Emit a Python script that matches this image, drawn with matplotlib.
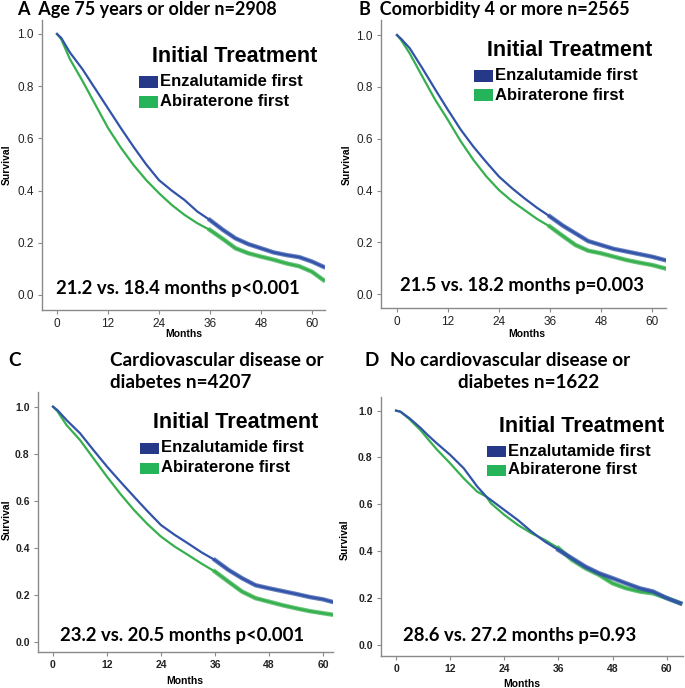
import matplotlib
matplotlib.use('Agg')
import matplotlib.pyplot as plt
from matplotlib.patches import Rectangle

# Survival values (month, survival)
months_a = [0, 1, 3, 6, 9, 12, 15, 18, 21, 24, 27, 30, 33, 36, 39, 42, 45, 48, 51, 54, 57, 60, 62.7]
enza_a = [1.0, 0.985, 0.93, 0.865, 0.79, 0.715, 0.64, 0.568, 0.50, 0.44, 0.40, 0.364, 0.32, 0.287,
          0.25, 0.217, 0.195, 0.179, 0.163, 0.153, 0.145, 0.128, 0.108]
abi_a = [1.0, 0.98, 0.905, 0.82, 0.73, 0.64, 0.565, 0.498, 0.44, 0.39, 0.345, 0.307, 0.275, 0.249,
         0.215, 0.179, 0.16, 0.147, 0.135, 0.121, 0.11, 0.089, 0.057]

months_b = [0, 1, 3, 6, 9, 12, 15, 18, 21, 24, 27, 30, 33, 36, 39, 42, 45, 48, 51, 54, 57, 60, 63]
enza_b = [1.0, 0.985, 0.949, 0.871, 0.79, 0.711, 0.635, 0.569, 0.51, 0.454, 0.41, 0.370, 0.333, 0.30,
          0.265, 0.235, 0.205, 0.19, 0.175, 0.165, 0.155, 0.145, 0.132]
abi_b = [1.0, 0.98, 0.929, 0.839, 0.75, 0.672, 0.59, 0.518, 0.455, 0.402, 0.36, 0.325, 0.29, 0.261,
         0.225, 0.19, 0.168, 0.158, 0.145, 0.132, 0.122, 0.113, 0.10]

months_c = [0, 1, 3, 6, 9, 12, 15, 18, 21, 24, 27, 30, 33, 36, 39, 42, 45, 48, 51, 54, 57, 60, 62.7]
enza_c = [1.0, 0.985, 0.943, 0.887, 0.815, 0.745, 0.68, 0.617, 0.555, 0.496, 0.455, 0.418, 0.38, 0.347,
          0.305, 0.27, 0.24, 0.227, 0.215, 0.203, 0.19, 0.18, 0.166]
abi_c = [1.0, 0.98, 0.922, 0.858, 0.78, 0.702, 0.628, 0.56, 0.5, 0.447, 0.405, 0.369, 0.332, 0.298,
         0.255, 0.213, 0.185, 0.17, 0.155, 0.142, 0.13, 0.121, 0.113]

months_d = [0, 1, 3, 5.5, 7, 9, 12, 15, 18, 20, 21, 24, 27, 30, 33, 36, 39, 42, 45, 48, 51, 54, 57, 60, 63]
enza_d = [1.0, 0.995, 0.967, 0.925, 0.896, 0.861, 0.811, 0.754, 0.676, 0.633, 0.619, 0.576, 0.533, 0.484,
          0.441, 0.405, 0.37, 0.334, 0.306, 0.285, 0.263, 0.242, 0.228, 0.20, 0.178]
abi_d = [1.0, 0.995, 0.963, 0.915, 0.88, 0.835, 0.775, 0.711, 0.654, 0.633, 0.605, 0.555, 0.512, 0.477,
         0.448, 0.413, 0.363, 0.327, 0.299, 0.263, 0.242, 0.228, 0.22, 0.20, 0.178]

titles = ['Age 75 years or older n=2908', 'Comorbidity 4 or more n=2565',
          'Cardiovascular disease or\ndiabetes n=4207', 'No cardiovascular disease or\ndiabetes n=1622']
notes = ['21.2 vs. 18.4 months p<0.001', '21.5 vs. 18.2 months p=0.003',
         '23.2 vs. 20.5 months p<0.001', '28.6 vs. 27.2 months p=0.93']
xticks = [0, 12, 24, 36, 48, 60]
yticks = [0.0, 0.2, 0.4, 0.6, 0.8, 1.0]

W, H = 685, 688
blue_line = '#3153a8'
green_line = '#36b04e'
blue_patch = '#263888'
green_patch = '#25b45a'
cal = 'Lato'
arial = 'Liberation Sans'
title_size = 13
title_size_cd = 13.6


def fx(px):
    return px / W


def fy(py):
    return 1 - py / H


fig = plt.figure(figsize=(6.85, 6.88), dpi=100)

# axes boxes in pixels: left, right, top, bottom, then xlim, ylim
panels = [
    (42, 325, 20, 310, (-3.53, 63.06), (-0.0575, 1.0536), months_a, enza_a, abi_a, False),
    (381, 666, 20, 308, (-3.76, 63.3), (-0.053, 1.058), months_b, enza_b, abi_b, False),
    (38, 333, 392, 652, (-3.33, 62.2), (-0.044, 1.0625), months_c, enza_c, abi_c, True),
    (381, 683, 397, 656, (-3.33, 63.6), (-0.047, 1.058), months_d, enza_d, abi_d, True),
]

for i, p in enumerate(panels):
    l, r, t, b, xl, yl, m, e, a, bold = p
    ax = fig.add_axes([fx(l), fy(b), (r - l) / W, (b - t) / H])
    ax.set_xlim(xl)
    ax.set_ylim(yl)
    # main curve, then censored tail drawn heavier
    for ys, c in [(a, green_line), (e, blue_line)]:
        ax.plot(m, ys, color=c, lw=1.6, solid_joinstyle='round')
        tail = [k for k in range(len(m)) if m[k] >= 36]
        ax.plot([m[k] for k in tail], [ys[k] for k in tail], color=c, lw=3.2, alpha=0.75)
    for s in ['top', 'right']:
        ax.spines[s].set_visible(False)
    for s in ['left', 'bottom']:
        ax.spines[s].set_color('#8a8a8a')
        ax.spines[s].set_linewidth(1.0)
    ax.set_xticks(xticks)
    ax.set_yticks(yticks)
    ax.set_yticklabels(['%.1f' % v for v in yticks])
    ax.tick_params(length=3, color='#8a8a8a', pad=3)
    for lab in ax.get_xticklabels() + ax.get_yticklabels():
        lab.set_family(arial)
        if bold:
            lab.set_fontsize(7.5)
            lab.set_fontweight('bold')
        else:
            lab.set_fontsize(8.5)
        lab.set_color('#222222')

# axis labels
for x, y in [(184, 334), (527, 334), (185, 681), (522, 684)]:
    fig.text(fx(x), fy(y), 'Months', ha='center', va='center', family=arial, fontsize=7.5,
             fontweight='bold')
for x, y in [(7, 165), (347, 165), (7, 520), (345, 540)]:
    fig.text(fx(x), fy(y), 'Survival', ha='center', va='center', rotation=90, family=arial,
             fontsize=7.5, fontweight='bold')

# panel titles
fig.text(fx(17), fy(9), 'A  ' + titles[0], ha='left', va='center', family=cal, fontsize=title_size,
         fontweight='bold')
fig.text(fx(359), fy(9), 'B  ' + titles[1], ha='left', va='center', family=cal, fontsize=title_size,
         fontweight='bold')
fig.text(fx(8), fy(360), 'C', ha='left', va='center', family=cal, fontsize=title_size_cd, fontweight='bold')
c1, c2 = titles[2].split('\n')
fig.text(fx(110), fy(360), c1, ha='left', va='center', family=cal, fontsize=title_size_cd, fontweight='bold')
fig.text(fx(110), fy(383), c2, ha='left', va='center', family=cal, fontsize=title_size_cd, fontweight='bold')
fig.text(fx(364), fy(360), 'D', ha='left', va='center', family=cal, fontsize=title_size_cd, fontweight='bold')
d1, d2 = titles[3].split('\n')
fig.text(fx(510), fy(360), d1, ha='center', va='center', family=cal, fontsize=title_size_cd, fontweight='bold')
fig.text(fx(529), fy(383), d2, ha='center', va='center', family=cal, fontsize=title_size_cd, fontweight='bold')

# legends: title centre, patch left, patch rows
legends = [
    (235, 57, 139, 82, 102),
    (570, 50, 474, 76, 95),
    (236, 423, 140, 448, 468),
    (582, 426, 487, 451, 470),
]
for lx, ly, px, y1, y2 in legends:
    fig.text(fx(lx), fy(ly), 'Initial Treatment', ha='center', va='center', family=arial,
             fontsize=15.5, fontweight='bold')
    for yy, col, name in [(y1, blue_patch, 'Enzalutamide first'), (y2, green_patch, 'Abiraterone first')]:
        fig.add_artist(Rectangle((fx(px), fy(yy + 5.5)), 19 / W, 11 / H, transform=fig.transFigure,
                                 facecolor=col, edgecolor='none'))
        fig.text(fx(px + 21), fy(yy), name, ha='left', va='center', family=arial, fontsize=12,
                 fontweight='bold')

# median survival notes
for (nx, ny), txt in zip([(178, 288), (522, 285), (182, 635), (520, 635)], notes):
    fig.text(fx(nx), fy(ny), txt, ha='center', va='center', family=cal, fontsize=13.3,
             fontweight='bold')

plt.savefig('out.png', dpi=100)
plt.close()
